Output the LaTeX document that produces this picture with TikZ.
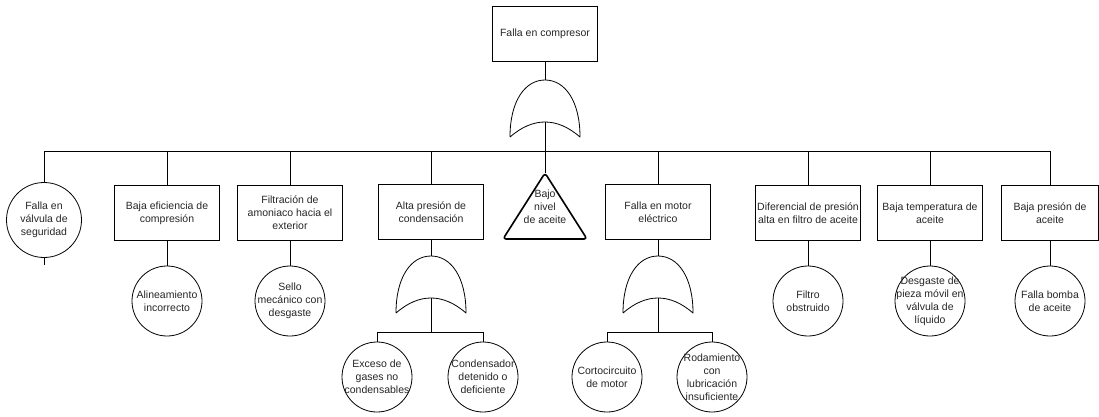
\documentclass[tikz,border=0pt]{standalone}
\usepackage{fontspec}
\setmainfont{Liberation Sans}
\begin{document}
\begin{tikzpicture}[x=1pt,y=-1pt,
  every node/.style={font=\fontsize{10.5}{13}\selectfont, text=black!85, align=center, inner sep=0pt},
  evbox/.style={draw, line width=0.8pt, minimum width=105pt, minimum height=55pt},
  evcirc/.style={draw, circle, line width=0.8pt, minimum size=70pt, label={[align=center]center:#1}},
  link/.style={line width=0.8pt},
  orgate/.pic={
    \draw[line width=0.8pt, line join=round]
      (-35,0) .. controls (-35,-36) and (-20,-57) .. (0,-57)
      .. controls (20,-57) and (35,-36) .. (35,0)
      .. controls (12,-20) and (-12,-20) .. (-35,0);
    \coordinate (-top) at (0,-57);
    \coordinate (-in) at (0,-15);
  }]
\useasboundingbox (0,0) rectangle (1099,417);

% top event and its OR gate
\node[evbox] (top) at (545,34) {Falla en compresor};
\pic (g0) at (545,137) {orgate};
\draw[link] (top.south) -- (g0-top);
\coordinate (bus) at (545,151);

% first level events
\node[evcirc={Falla en\\válvula de\\seguridad}, minimum size=75pt] (c1) at (44,220) {};
\node[evbox] (b2) at (167,213) {Baja eficiencia de\\compresión};
\node[evbox] (b3) at (290,213) {Filtración de\\amoniaco hacia el\\exterior};
\node[evbox] (b4) at (431,212) {Alta presión de\\condensación};
\coordinate (t5top) at (545,173);
\draw[line width=1.6pt, rounded corners=3pt, line join=round]
  (545,173) -- (587,239) -- (503,239) -- cycle;
\node (t5) at (545,207) {Bajo\\nivel\\de aceite};
\node[evbox] (b6) at (658,212) {Falla en motor\\eléctrico};
\node[evbox] (b7) at (808,213) {Diferencial de presión\\alta en filtro de aceite};
\node[evbox] (b8) at (930,213) {Baja temperatura de\\aceite};
\node[evbox, minimum width=97pt] (b9) at (1050,213) {Baja presión de\\aceite};

\foreach \n in {c1,b2,b3,b4,b6,b7,b8,b9}
  \draw[link] (g0-in) -- (bus) -| (\n.north);
\draw[link] (bus) -- (t5top);
\draw[link] (c1.south) -- ++(0,7);

% basic events under single-cause branches
\node[evcirc={Alineamiento\\incorrecto}] (d2) at (167,301) {};
\node[evcirc={Sello\\mecánico con\\desgaste}] (d3) at (290,301) {};
\node[evcirc={Filtro\\obstruido}] (d7) at (808,301) {};
\node[evcirc={Desgaste de\\pieza móvil en\\válvula de\\líquido}] (d8) at (930,301) {};
\node[evcirc={Falla bomba\\de aceite}] (d9) at (1050,301) {};
\foreach \a/\b in {b2/d2,b3/d3,b7/d7,b8/d8,b9/d9}
  \draw[link] (\a.south) -- (\b.north);

% OR gate under high condensing pressure
\pic (g4) at (431,313) {orgate};
\draw[link] (b4.south) -- (g4-top);
\coordinate (bus4) at (431,332);
\node[evcirc={Exceso de\\gases no\\condensables}] (e41) at (377,377) {};
\node[evcirc={Condensador\\detenido o\\deficiente}] (e42) at (483,377) {};
\foreach \n in {e41,e42}
  \draw[link] (g4-in) -- (bus4) -| (\n.north);

% OR gate under electric motor failure
\pic (g6) at (658,313) {orgate};
\draw[link] (b6.south) -- (g6-top);
\coordinate (bus6) at (658,332);
\node[evcirc={Cortocircuito\\de motor}] (e61) at (607,377) {};
\node[evcirc={Rodamiento\\con\\lubricación\\insuficiente}] (e62) at (712,377) {};
\foreach \n in {e61,e62}
  \draw[link] (g6-in) -- (bus6) -| (\n.north);
\end{tikzpicture}
\end{document}
